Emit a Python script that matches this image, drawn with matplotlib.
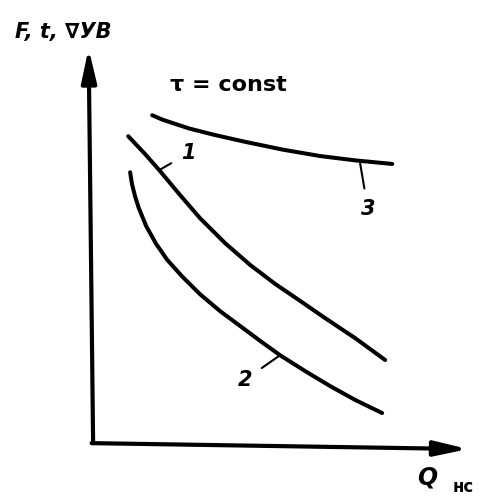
import matplotlib.pyplot as plt

# curve 1
q1 = [0.94, 1.39, 1.79, 2.33, 2.86, 3.53, 4.20, 4.87, 5.54, 6.20, 7.01, 7.81]
f1 = [7.75, 7.30, 6.87, 6.26, 5.68, 5.05, 4.50, 4.02, 3.59, 3.16, 2.65, 2.10]

# curve 2
q2 = [0.99, 1.04, 1.12, 1.22, 1.42, 1.68, 1.98, 2.38, 2.86, 3.40, 3.93, 4.47,
      5.00, 5.67, 6.34, 7.01, 7.73]
f2 = [6.84, 6.54, 6.24, 5.94, 5.48, 5.04, 4.63, 4.21, 3.76, 3.33, 2.96, 2.58,
      2.22, 1.82, 1.44, 1.09, 0.76]

# curve 3 (tau = const)
q3 = [1.58, 1.85, 2.20, 2.59, 3.26, 4.06, 5.08, 6.07, 7.01, 8.00]
f3 = [8.28, 8.17, 8.06, 7.94, 7.78, 7.61, 7.41, 7.25, 7.14, 7.05]

curve_labels = ['1', '2', '3']
# (point on curve, label position)
label_pos = [((1.76, 6.89), (2.55, 7.32)),
             ((5.00, 2.22), (4.06, 1.60)),
             ((7.14, 7.07), (7.35, 5.90))]

y_label = 'F, t, \u2207УВ'
x_label = 'Q'
x_sub = 'нс'
note = '\u03c4 = const'

fig = plt.figure(figsize=(4.82, 4.97), dpi=100)
ax = fig.add_axes([0, 0, 1, 1])
ax.set_xlim(-2.49, 10.40)
ax.set_ylim(-1.36, 11.19)
ax.axis('off')

lw = 2.9
for q, f in [(q1, f1), (q2, f2), (q3, f3)]:
    ax.plot(q, f, color='black', lw=lw, solid_capstyle='round',
            solid_joinstyle='round')

# axes with arrows
arrow = dict(arrowstyle='-|>,head_length=2.0,head_width=0.45', color='black',
             lw=3, shrinkA=0, shrinkB=0)
ax.annotate('', xy=(-0.12, 9.97), xytext=(0, 0), arrowprops=arrow)
ax.annotate('', xy=(10.03, -0.15), xytext=(-0.04, 0), arrowprops=arrow)

for lab, (pt, pos) in zip(curve_labels, label_pos):
    ax.annotate(lab, xy=pt, xytext=pos, ha='center', va='center',
                fontsize=15, style='italic', fontweight='bold',
                arrowprops=dict(arrowstyle='-', color='black', lw=1.5,
                                shrinkA=6, shrinkB=0))

ax.text(-2.09, 10.38, y_label, ha='left', va='center', fontsize=15,
        style='italic', fontweight='bold')
ax.text(3.61, 9.04, note, ha='center', va='center', fontsize=16,
        fontweight='bold')
ax.text(8.93, -0.88, x_label, ha='center', va='center', fontsize=17,
        style='italic', fontweight='bold')
ax.text(9.89, -1.12, x_sub, ha='center', va='center', fontsize=12,
        fontweight='bold')

fig.savefig('out.png', dpi=100)
